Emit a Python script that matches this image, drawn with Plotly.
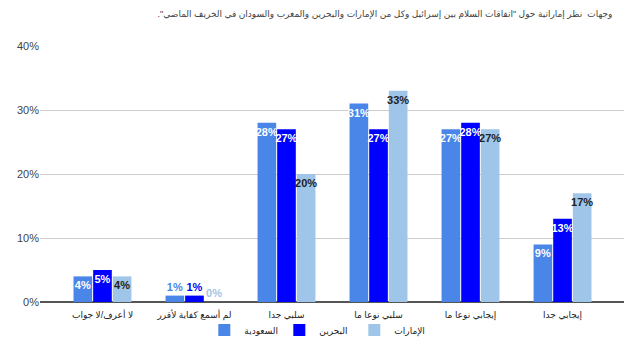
import plotly.graph_objects as go

categories = ["لا أعرف/لا جواب", "لم أسمع كفاية لأقرر", "سلبي جدا", "سلبي نوعا ما", "إيجابي نوعا ما", "إيجابي جدا"]
saudi = [4, 1, 28, 31, 27, 9]
bahrain = [5, 1, 27, 27, 28, 13]
uae = [4, 0, 20, 33, 27, 17]
series_names = ["السعودية", "البحرين", "الإمارات"]
colors = ["#4a86e8", "#0000ff", "#9fc5e8"]
inside_colors = ["#ffffff", "#ffffff", "#222222"]
title_text = "وجهات  نظر إماراتية حول \"اتفاقات السلام بين إسرائيل وكل من الإمارات والبحرين والمغرب والسودان في الخريف الماضي\".\u200f"
ytick_vals = [0, 10, 20, 30, 40]
ytick_text = ["0%", "10%", "20%", "30%", "40%"]

FONT = "Arial, Liberation Sans, DejaVu Sans, sans-serif"

fig = go.Figure()
for name, vals, col, icol in zip(series_names, [saudi, bahrain, uae], colors, inside_colors):
    fig.add_trace(go.Bar(
        x=categories, y=vals, name=name,
        marker=dict(color=col, line=dict(width=0)),
        text=[f"{v}%" for v in vals],
        textposition=["inside" if v >= 3 else "outside" for v in vals],
        insidetextanchor="end",
        textangle=0,
        constraintext="none",
        cliponaxis=False,
        insidetextfont=dict(family=FONT, size=11, color=icol, weight="bold"),
        outsidetextfont=dict(family=FONT, size=11, color=col, weight="bold"),
    ))

fig.update_layout(
    width=640, height=354,
    margin=dict(l=40, r=16, t=46, b=52, autoexpand=False),
    paper_bgcolor="white", plot_bgcolor="white",
    barmode="group", bargap=0.36, bargroupgap=0.05,
    font=dict(family=FONT, color="#222222"),
    title=dict(text=title_text, x=0.957, xanchor="right", xref="container",
               y=1 - 14 / 354, yanchor="middle", yref="container",
               font=dict(family=FONT, size=9, color="#444444")),
    legend=dict(orientation="h", x=0.474, xanchor="center",
                y=1 - 330 / 354, yanchor="middle", yref="container",
                bgcolor="rgba(0,0,0,0)",
                font=dict(family=FONT, size=9, color="#222222"),
                itemwidth=30, traceorder="normal",
                entrywidth=30, entrywidthmode="pixels"),
    xaxis=dict(range=[-0.679, 5.668], showgrid=False, ticks="", showline=False,
               ticklabelstandoff=6,
               tickfont=dict(family=FONT, size=9, color="#222222")),
    yaxis=dict(range=[0, 40], tickvals=ytick_vals, ticktext=ytick_text,
               showgrid=True, gridcolor="#cccccc", gridwidth=1,
               zeroline=True, zerolinecolor="#555555", zerolinewidth=2,
               ticks="", tickfont=dict(family=FONT, size=11, color="#444444")),
)

fig.write_html("out.html")
